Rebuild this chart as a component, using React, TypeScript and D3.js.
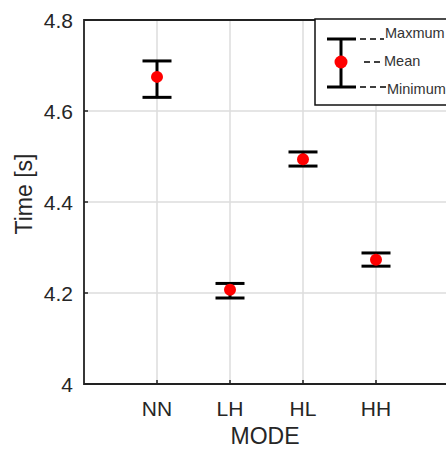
import React from 'react';
import * as d3 from 'd3';

const modes = ['NN', 'LH', 'HL', 'HH'];
const meanTime = [4.675, 4.207, 4.494, 4.273];
const maxTime = [4.71, 4.221, 4.51, 4.288];
const minTime = [4.63, 4.189, 4.479, 4.259];
const yTicks = [4, 4.2, 4.4, 4.6, 4.8];

const W = 446;
const H = 449;
const margin = { top: 20, left: 84, bottom: 65 };
const font = '"Liberation Sans", Arial, sans-serif';
const textColor = '#262626';

const App = () => {
  const x = d3.scaleLinear().domain([0, 5]).range([margin.left, margin.left + 5 * 73]);
  const y = d3.scaleLinear().domain([4, 4.8]).range([H - margin.bottom, margin.top]);
  const capHalf = 14.5;

  return (
    <svg width={W} height={H} style={{ position: 'absolute', left: 0, top: 0, background: '#fff' }}>
      {/* grid */}
      {modes.map((m, i) => (
        <line key={'gx' + m} x1={x(i + 1)} x2={x(i + 1)} y1={y(4)} y2={y(4.8)} stroke="#dcdcdc" strokeWidth={1.5} />
      ))}
      {yTicks.slice(1, -1).map(t => (
        <line key={'gy' + t} x1={x(0)} x2={x(5)} y1={y(t)} y2={y(t)} stroke="#dcdcdc" strokeWidth={1.5} />
      ))}

      {/* axes box */}
      <path
        d={`M${x(5)},${y(4.8)}H${x(0)}V${y(4)}H${x(5)}`}
        fill="none"
        stroke="#222"
        strokeWidth={1.8}
      />
      {/* ticks */}
      {yTicks.map(t => (
        <g key={'ty' + t}>
          <line x1={x(0)} x2={x(0) + 4} y1={y(t)} y2={y(t)} stroke="#222" strokeWidth={1.5} />
          <text
            x={x(0) - 11}
            y={y(t)}
            dy="0.36em"
            textAnchor="end"
            fontFamily={font}
            fontSize={21}
            fill={textColor}
          >
            {d3.format('~g')(t)}
          </text>
        </g>
      ))}
      {modes.map((m, i) => (
        <g key={'tx' + m}>
          <line x1={x(i + 1)} x2={x(i + 1)} y1={y(4)} y2={y(4) - 4} stroke="#222" strokeWidth={1.5} />
          <text x={x(i + 1)} y={416} textAnchor="middle" fontFamily={font} fontSize={21} fill={textColor}>
            {m}
          </text>
        </g>
      ))}
      <text x={265} y={444} textAnchor="middle" fontFamily={font} fontSize={23} fill={textColor}>
        MODE
      </text>
      <text
        transform={`translate(32,194) rotate(-90)`}
        textAnchor="middle"
        fontFamily={font}
        fontSize={23}
        fill={textColor}
      >
        Time [s]
      </text>

      {/* error bars */}
      {modes.map((m, i) => (
        <g key={'eb' + m} stroke="#000" strokeWidth={3}>
          <line x1={x(i + 1)} x2={x(i + 1)} y1={y(maxTime[i])} y2={y(minTime[i])} />
          <line x1={x(i + 1) - capHalf} x2={x(i + 1) + capHalf} y1={y(maxTime[i])} y2={y(maxTime[i])} />
          <line x1={x(i + 1) - capHalf} x2={x(i + 1) + capHalf} y1={y(minTime[i])} y2={y(minTime[i])} />
        </g>
      ))}
      {modes.map((m, i) => (
        <circle key={'pt' + m} cx={x(i + 1)} cy={y(meanTime[i])} r={6} fill="#ff0000" />
      ))}

      {/* legend */}
      <g>
        <rect x={315} y={19} width={140} height={86} fill="#fff" stroke="#111" strokeWidth={1.5} />
        <g stroke="#000" strokeWidth={3}>
          <line x1={341} x2={341} y1={39} y2={87} />
          <line x1={327} x2={356} y1={39} y2={39} />
          <line x1={327} x2={356} y1={87} y2={87} />
        </g>
        <circle cx={341} cy={62} r={6.5} fill="#ff0000" />
        <g stroke="#000" strokeWidth={1.3} strokeDasharray="6,4">
          <line x1={360} x2={384} y1={39} y2={39} />
          <line x1={364} x2={383} y1={62} y2={62} />
          <line x1={360} x2={386} y1={87} y2={87} />
        </g>
        <text x={385} y={38} fontFamily={font} fontSize={14.5} fill="#333">
          Maxmum
        </text>
        <text x={384} y={66} fontFamily={font} fontSize={14.5} fill="#333">
          Mean
        </text>
        <text x={387} y={94} fontFamily={font} fontSize={14.5} fill="#333">
          Minimum
        </text>
      </g>
    </svg>
  );
};

export default App;
